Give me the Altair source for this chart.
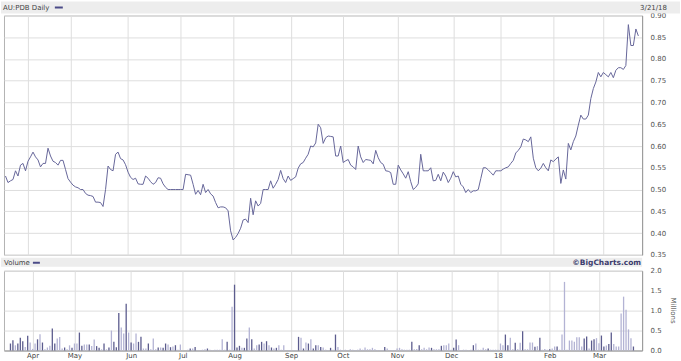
import altair as alt
import pandas as pd

# ---- data (one value per trading day, 21 Mar 2017 .. 21 Mar 2018)
price = [
    0.531, 0.516, 0.520, 0.523, 0.543, 0.531, 0.556, 0.560, 0.543, 0.565,
    0.575, 0.586, 0.575, 0.568, 0.552, 0.560, 0.560, 0.595, 0.577, 0.565,
    0.562, 0.556, 0.567, 0.567, 0.546, 0.525, 0.517, 0.510, 0.506, 0.504,
    0.500, 0.500, 0.491, 0.487, 0.486, 0.484, 0.471, 0.471, 0.470, 0.461,
    0.500, 0.554, 0.546, 0.543, 0.581, 0.586, 0.571, 0.568, 0.557, 0.540,
    0.528, 0.523, 0.526, 0.513, 0.512, 0.512, 0.531, 0.526, 0.518, 0.512,
    0.516, 0.527, 0.526, 0.513, 0.505, 0.500, 0.500, 0.500, 0.500, 0.500,
    0.500, 0.500, 0.535, 0.534, 0.533, 0.512, 0.489, 0.498, 0.488, 0.512,
    0.493, 0.500, 0.490, 0.485, 0.470, 0.458, 0.460, 0.460, 0.458, 0.451,
    0.405, 0.384, 0.390, 0.399, 0.411, 0.430, 0.432, 0.424, 0.480, 0.442,
    0.474, 0.462, 0.468, 0.500, 0.500, 0.500, 0.520, 0.503, 0.512, 0.523,
    0.544, 0.525, 0.516, 0.531, 0.521, 0.525, 0.529, 0.549, 0.559, 0.562,
    0.572, 0.581, 0.600, 0.598, 0.607, 0.650, 0.642, 0.606, 0.619, 0.623,
    0.622, 0.621, 0.577, 0.577, 0.600, 0.562, 0.566, 0.569, 0.556, 0.552,
    0.546, 0.600, 0.575, 0.562, 0.569, 0.568, 0.567, 0.559, 0.590, 0.573,
    0.562, 0.558, 0.543, 0.542, 0.539, 0.512, 0.512, 0.556, 0.545, 0.536,
    0.526, 0.541, 0.518, 0.500, 0.505, 0.513, 0.581, 0.543, 0.543, 0.543,
    0.550, 0.520, 0.521, 0.535, 0.520, 0.540, 0.531, 0.516, 0.526, 0.541,
    0.529, 0.531, 0.512, 0.506, 0.493, 0.500, 0.493, 0.497, 0.497, 0.500,
    0.525, 0.550, 0.550, 0.545, 0.539, 0.533, 0.543, 0.543, 0.543, 0.547,
    0.550, 0.552, 0.560, 0.567, 0.584, 0.590, 0.598, 0.616, 0.614, 0.610,
    0.621, 0.572, 0.550, 0.543, 0.549, 0.560, 0.550, 0.543, 0.568, 0.564,
    0.570, 0.575, 0.514, 0.545, 0.524, 0.606, 0.591, 0.610, 0.623, 0.648,
    0.671, 0.662, 0.662, 0.671, 0.709, 0.732, 0.747, 0.769, 0.759, 0.769,
    0.764, 0.759, 0.769, 0.757, 0.774, 0.780, 0.780, 0.776, 0.785, 0.879,
    0.831, 0.831, 0.869, 0.853,
]

# volume in millions, same days
volume = [
    0.175, 0.26, 0.13, 0.175, 0.32, 0.23, 0.09, 0.37, 0.20, 0.04,
    0.175, 0.28, 0.41, 0.20, 0.03, 0.075, 0.12, 0.55, 0.175, 0.30,
    0.34, 0.05, 0.075, 0.03, 0.13, 0.07, 0.175, 0.175, 0.45, 0.12,
    0.15, 0.15, 0.15, 0.11, 0.275, 0.11, 0.067, 0.03, 0.175, 0.03,
    0.075, 0.50, 0.217, 0.083, 0.94, 0.575, 0.425, 1.175, 0.45, 0.20,
    0.175, 0.425, 0.217, 0.342, 0.05, 0.05, 0.175, 0.03, 0.30, 0.03,
    0.075, 0.075, 0.067, 0.175, 0.15, 0.083, 0.10, 0.133, 0.02, 0.15,
    0.0, 0.0, 0.02, 0.05, 0.05, 0.09, 0.01, 0.01, 0.02, 0.03,
    0.05, 0.02, 0.01, 0.02, 0.02, 0.02, 0.28, 0.02, 0.22, 0.02,
    1.10, 1.65, 0.075, 0.117, 0.067, 0.067, 0.30, 0.575, 0.283, 0.05,
    0.133, 0.15, 0.217, 0.175, 0.233, 0.133, 0.075, 0.05, 0.067, 0.133,
    0.02, 0.133, 0.01, 0.01, 0.01, 0.01, 0.01, 0.342, 0.317, 0.05,
    0.20, 0.175, 0.283, 0.05, 0.133, 0.133, 0.09, 0.075, 0.02, 0.01,
    0.067, 0.02, 0.40, 0.09, 0.02, 0.01, 0.02, 0.01, 0.03, 0.02,
    0.01, 0.02, 0.05, 0.02, 0.075, 0.03, 0.03, 0.067, 0.03, 0.01,
    0.01, 0.01, 0.09, 0.05, 0.01, 0.01, 0.01, 0.05, 0.067, 0.03,
    0.02, 0.02, 0.02, 0.217, 0.03, 0.04, 0.133, 0.03, 0.067, 0.03,
    0.075, 0.067, 0.03, 0.03, 0.03, 0.117, 0.133, 0.133, 0.175, 0.02,
    0.067, 0.275, 0.133, 0.01, 0.02, 0.02, 0.01, 0.02, 0.133, 0.175,
    0.02, 0.02, 0.067, 0.03, 0.05, 0.02, 0.02, 0.02, 0.02, 0.175,
    0.133, 0.40, 0.133, 0.317, 0.03, 0.192, 0.03, 0.192, 0.483, 0.03,
    0.03, 0.20, 0.20, 0.092, 0.108, 0.317, 0.02, 0.04, 0.02, 0.03,
    0.05, 0.10, 0.10, 0.02, 0.40, 1.72, 0.02, 0.25, 0.25, 0.22,
    0.33, 0.33, 0.10, 0.30, 0.35, 0.05, 0.25, 0.28, 0.31, 0.18,
    0.375, 0.10, 0.125, 0.16, 0.45, 0.16, 0.10, 0.10, 0.93, 1.35,
    1.02, 0.53, 0.31, 0.10,
]

# bar shade per day as seen in the picture: d = dark, l = light
shade_rows = [
    "ddldddldll", "ldldlllddl", "lldlldlldd", "lldllddldl", "dldddlldld",
    "llddlldlll", "dlddldldll", "llldldllll", "dllllllldl", "ldddlddldl",
    "lddldldldl", "llllllldld", "ldlddldlll", "dldlllllll", "llllllllll",
    "lldlllllll", "llldlldlll", "ldllldllll", "ddlllllldl", "lllldlllll",
    "lddlldlldl", "llldldllld", "lldlllllll", "lllddlddll", "ddlddlllll",
    "llld",
]
shade = list("".join(shade_rows))

months_at = [9, 26, 49, 70, 91, 114, 135, 157, 179, 198, 219, 239]
months_txt = ["Apr", "May", "Jun", "Jul", "Aug", "Sep", "Oct", "Nov", "Dec", "18", "Feb", "Mar"]
price_ticks = [0.35, 0.40, 0.45, 0.50, 0.55, 0.60, 0.65, 0.70, 0.75, 0.80, 0.85, 0.90]
vol_ticks = [0.0, 0.5, 1.0, 1.5, 2.0]

n = min(len(price), len(volume), len(shade))
df = pd.DataFrame({"d": list(range(n)), "price": price[:n],
                   "vol": volume[:n], "shade": shade[:n]})

label_expr = ""
for i, t in zip(months_at, months_txt):
    label_expr += f"datum.value == {i} ? '{t}' : "
label_expr += "''"

FONT = "DejaVu Sans"
LINE = "#66669a"
BAND = "#ededed"
GRID = "#dedede"

xscale = alt.Scale(domain=[-0.6, 254.5], nice=False, zero=False)
one = pd.DataFrame({"k": [0]})

# ---------------- price panel
top_line = alt.Chart(df).mark_line(color=LINE, strokeWidth=1).encode(
    x=alt.X("d:Q", scale=xscale,
            axis=alt.Axis(values=months_at, labels=False, ticks=False, domain=False,
                          grid=True, gridColor=GRID, title=None)),
    y=alt.Y("price:Q", scale=alt.Scale(domain=[0.35, 0.90], nice=False, zero=False),
            axis=alt.Axis(orient="right", values=price_ticks, format=".2f", title=None,
                          ticks=False, domain=True, domainColor="#999999",
                          labelPadding=8, grid=True, gridColor=GRID,
                          labelFont=FONT, labelFontSize=7, labelColor="#555555")),
)

hdr = alt.Chart(one)
top_band = hdr.mark_rect(color=BAND).encode(
    x=alt.value(-3), x2=alt.value(678), y=alt.value(-14), y2=alt.value(-2))
top_title = hdr.mark_text(align="left", baseline="middle", font=FONT, fontSize=7,
                          color="#444444").encode(
    x=alt.value(-1), y=alt.value(-8), text=alt.value("AU:PDB Daily"))
top_swatch = hdr.mark_rule(color="#4b4b88", strokeWidth=2).encode(
    x=alt.value(51), x2=alt.value(59), y=alt.value(-8))
top_date = hdr.mark_text(align="left", baseline="middle", font=FONT, fontSize=7,
                         color="#444444").encode(
    x=alt.value(638), y=alt.value(-8), text=alt.value("3/21/18"))

top = alt.layer(top_band, top_line, top_title, top_swatch, top_date).properties(
    width=640, height=240)

# ---------------- volume panel
bars = alt.Chart(df).mark_bar(size=1.3).encode(
    x=alt.X("d:Q", scale=xscale,
            axis=alt.Axis(values=months_at, labelExpr=label_expr, ticks=False,
                          domain=True, domainColor="#999999", domainWidth=1,
                          grid=True, gridColor=GRID, title=None,
                          labelPadding=1, labelFont=FONT, labelFontSize=7,
                          labelColor="#444444")),
    y=alt.Y("vol:Q", scale=alt.Scale(domain=[0, 2], nice=False),
            axis=alt.Axis(orient="right", values=vol_ticks, format=".1f", title=None,
                          ticks=False, domain=True, domainColor="#999999",
                          labelPadding=8, grid=True, gridColor=GRID,
                          labelFont=FONT, labelFontSize=7, labelColor="#555555")),
    color=alt.Color("shade:N", scale=alt.Scale(domain=["d", "l"],
                                               range=["#5c5c8e", "#b3b3d4"]),
                    legend=None),
)

vhdr = alt.Chart(one)
v_band = vhdr.mark_rect(color=BAND).encode(
    x=alt.value(-3), x2=alt.value(640), y=alt.value(-13), y2=alt.value(-4))
v_title = vhdr.mark_text(align="left", baseline="middle", font=FONT, fontSize=7,
                         color="#444444").encode(
    x=alt.value(0), y=alt.value(-8), text=alt.value("Volume"))
v_swatch = vhdr.mark_rule(color="#4b4b88", strokeWidth=2).encode(
    x=alt.value(29), x2=alt.value(36), y=alt.value(-8))
v_brand = vhdr.mark_text(align="right", baseline="middle", font=FONT, fontSize=7.5,
                         fontWeight="bold", color="#3c3c6e").encode(
    x=alt.value(639), y=alt.value(-8), text=alt.value("\u00a9BigCharts.com"))
v_units = vhdr.mark_text(align="center", baseline="middle", font=FONT, fontSize=7,
                         angle=90, color="#555555").encode(
    x=alt.value(671), y=alt.value(40), text=alt.value("Millions"))

bottom = alt.layer(v_band, bars, v_title, v_swatch, v_brand, v_units).properties(
    width=640, height=80)

chart = alt.vconcat(top, bottom, spacing=-2).properties(
    padding={"left": 0, "top": 0, "right": 0, "bottom": 0},
    background="white",
).configure_view(stroke="#b4b4b4", strokeWidth=1)

chart.save("out.html", embed_options={"renderer": "svg", "actions": False})
